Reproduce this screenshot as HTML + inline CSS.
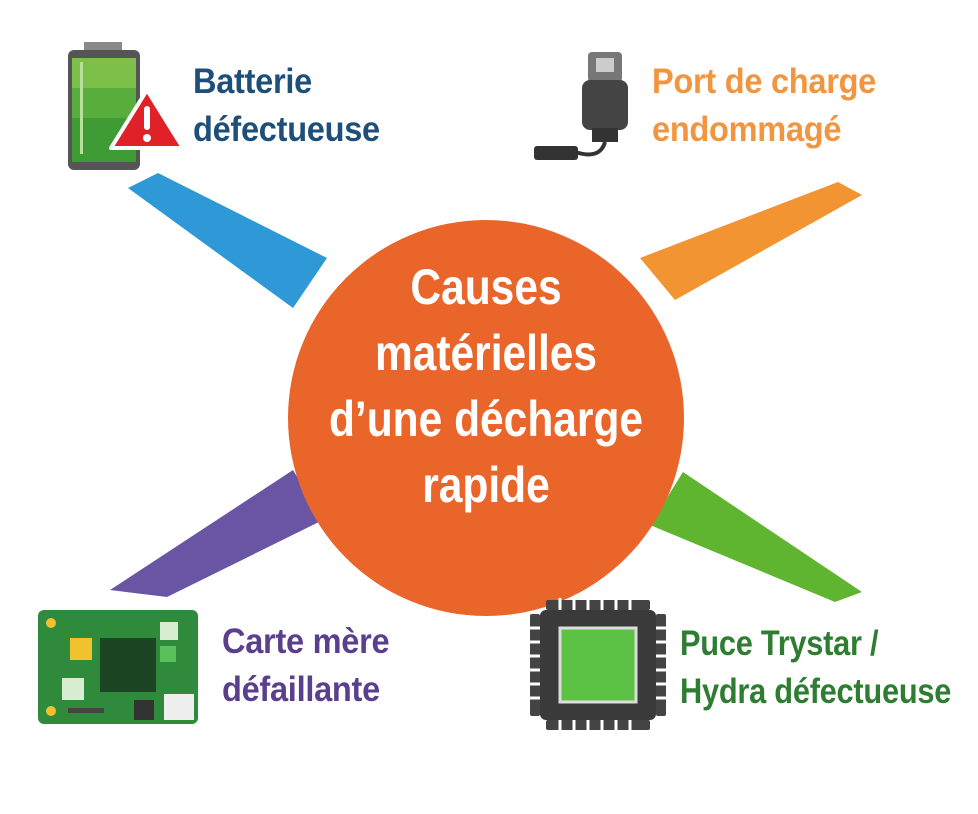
<!DOCTYPE html>
<html><head><meta charset="utf-8"><style>
body{margin:0;background:#fff;width:978px;height:814px;overflow:hidden;position:relative;font-family:"Liberation Sans",sans-serif}
.t{position:absolute;font-size:35px;line-height:48px;font-weight:bold;letter-spacing:-0.3px;white-space:nowrap;transform:scaleX(0.93);transform-origin:0 0}
</style></head><body>
<svg width="978" height="814" style="position:absolute;left:0;top:0">
<polygon points="128,188 158,173 327,258 293,308" fill="#2f98d6"/>
<polygon points="640,258 838,182 862,195 675,300" fill="#f39433"/>
<polygon points="293,470 323,520 167,597 110,590" fill="#6a55a4"/>
<polygon points="683,472 650,525 835,602 862,592" fill="#5fb530"/>
<circle cx="486" cy="418" r="198" fill="#e9652a"/>
<rect x="84" y="42" width="38" height="10" fill="#8a8a8a"/>
<rect x="68" y="50" width="72" height="120" rx="6" fill="#555"/>
<rect x="72" y="58" width="64" height="104" fill="#3f9b34"/>
<rect x="72" y="58" width="64" height="30" fill="#7cc04a"/>
<rect x="72" y="88" width="64" height="30" fill="#58ad3d"/>
<rect x="80" y="62" width="3" height="92" fill="#b8e09a"/>
<polygon points="147,90 183,148 111,148" fill="#e02128" stroke="#fff" stroke-width="4" stroke-linejoin="round"/>
<rect x="144" y="106" width="6" height="24" rx="3" fill="#fff"/>
<circle cx="147" cy="138" r="4" fill="#fff"/>
<rect x="588" y="52" width="34" height="30" rx="4" fill="#777"/>
<rect x="596" y="58" width="18" height="14" fill="#ccc"/>
<rect x="582" y="80" width="46" height="50" rx="8" fill="#444"/>
<rect x="592" y="128" width="26" height="14" fill="#333"/>
<path d="M605 142 Q600 160 575 152" stroke="#333" stroke-width="4" fill="none"/>
<rect x="534" y="146" width="44" height="14" rx="3" fill="#333"/>
<rect x="38" y="610" width="160" height="114" rx="6" fill="#2f8a3c"/>
<rect x="100" y="638" width="56" height="54" fill="#1b4524"/>
<rect x="70" y="638" width="22" height="22" fill="#f2c12e"/>
<rect x="62" y="678" width="22" height="22" fill="#d8ecd2"/>
<rect x="160" y="622" width="18" height="18" fill="#d8ecd2"/>
<rect x="160" y="646" width="16" height="16" fill="#5ac05a"/>
<rect x="164" y="694" width="30" height="26" fill="#eee"/>
<rect x="134" y="700" width="20" height="20" fill="#333"/>
<circle cx="51" cy="623" r="5" fill="#f2c12e"/><circle cx="51" cy="711" r="5" fill="#f2c12e"/>
<rect x="68" y="708" width="36" height="5" fill="#444"/>
<g fill="#444">
<rect x="546" y="600" width="104" height="10" rx="2"/>
<rect x="546" y="720" width="104" height="10" rx="2"/>
<rect x="530" y="614" width="10" height="102" rx="2"/>
<rect x="656" y="614" width="10" height="102" rx="2"/>
</g>
<g stroke="#fff" stroke-width="3">
<line x1="560" y1="598" x2="560" y2="732"/><line x1="574" y1="598" x2="574" y2="732"/><line x1="588" y1="598" x2="588" y2="732"/><line x1="602" y1="598" x2="602" y2="732"/><line x1="616" y1="598" x2="616" y2="732"/><line x1="630" y1="598" x2="630" y2="732"/>
<line x1="528" y1="628" x2="668" y2="628"/><line x1="528" y1="642" x2="668" y2="642"/><line x1="528" y1="656" x2="668" y2="656"/><line x1="528" y1="670" x2="668" y2="670"/><line x1="528" y1="684" x2="668" y2="684"/><line x1="528" y1="698" x2="668" y2="698"/>
</g>
<rect x="540" y="610" width="116" height="110" rx="6" fill="#3a3a3a"/>
<rect x="560" y="628" width="76" height="74" fill="#5cc245" stroke="#ddd" stroke-width="3"/>
</svg>
<div class="t" style="left:193px;top:58px;color:#1e4f7a">Batterie<br>défectueuse</div>
<div class="t" style="left:652px;top:58px;color:#f29540">Port de charge<br>endommagé</div>
<div class="t" style="left:222px;top:618px;color:#5a3f8e">Carte mère<br>défaillante</div>
<div class="t" style="left:680px;top:620px;color:#2e7d33;transform:scaleX(0.88)">Puce Trystar /<br>Hydra défectueuse</div>
<div style="position:absolute;left:186px;top:254px;width:600px;text-align:center;color:#fff;font-weight:bold;font-size:50px;line-height:66px;transform:scaleX(0.85);transform-origin:50% 0">Causes<br>matérielles<br>d’une décharge<br>rapide</div>
</body></html>
